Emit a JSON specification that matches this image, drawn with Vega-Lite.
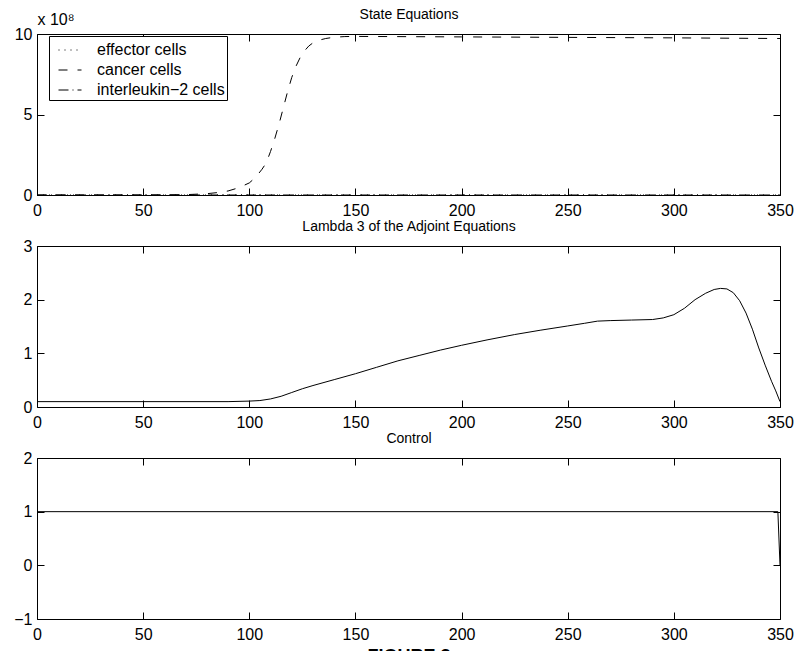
{
  "$schema": "https://vega.github.io/schema/vega-lite/v6.json",
  "padding": {"left": 13, "top": 7, "right": 5, "bottom": 5},
  "background": "white",
  "spacing": 51,
  "bounds": "flush",
  "config": {
    "font": "Liberation Sans",
    "view": {"stroke": null},
    "axis": {"grid": false, "domainColor": "black", "domainWidth": 1, "tickColor": "black", "tickWidth": 1, "tickSize": -7, "labelColor": "black", "labelFontSize": 16, "labelFont": "Liberation Sans", "titleFont": "Liberation Sans", "titleFontSize": 14, "titleFontWeight": "normal", "titleColor": "black", "labelFlush": false, "labelOverlap": false},
    "axisX": {"labelPadding": 14},
    "axisY": {"labelPadding": 12}
  },
  "datasets": {
    "state": [
      {"t": 0, "v": 0, "series": "effector cells"},
      {"t": 100, "v": 0, "series": "effector cells"},
      {"t": 200, "v": 0, "series": "effector cells"},
      {"t": 350, "v": 0, "series": "effector cells"},
      {"t": 0, "v": 0, "series": "interleukin−2 cells"},
      {"t": 100, "v": 0, "series": "interleukin−2 cells"},
      {"t": 200, "v": 0, "series": "interleukin−2 cells"},
      {"t": 350, "v": 0, "series": "interleukin−2 cells"},
      {"t": 0, "v": 0, "series": "cancer cells"},
      {"t": 50, "v": 0, "series": "cancer cells"},
      {"t": 70, "v": 2000000, "series": "cancer cells"},
      {"t": 80, "v": 8000000, "series": "cancer cells"},
      {"t": 85, "v": 15000000, "series": "cancer cells"},
      {"t": 90, "v": 25000000, "series": "cancer cells"},
      {"t": 95, "v": 45000000, "series": "cancer cells"},
      {"t": 100, "v": 75000000, "series": "cancer cells"},
      {"t": 103, "v": 110000000, "series": "cancer cells"},
      {"t": 106, "v": 160000000, "series": "cancer cells"},
      {"t": 108, "v": 200000000, "series": "cancer cells"},
      {"t": 110, "v": 270000000, "series": "cancer cells"},
      {"t": 112, "v": 350000000, "series": "cancer cells"},
      {"t": 114, "v": 440000000, "series": "cancer cells"},
      {"t": 116, "v": 540000000, "series": "cancer cells"},
      {"t": 118, "v": 640000000, "series": "cancer cells"},
      {"t": 120, "v": 730000000, "series": "cancer cells"},
      {"t": 122, "v": 800000000, "series": "cancer cells"},
      {"t": 124, "v": 855000000, "series": "cancer cells"},
      {"t": 126, "v": 895000000, "series": "cancer cells"},
      {"t": 128, "v": 925000000, "series": "cancer cells"},
      {"t": 130, "v": 945000000, "series": "cancer cells"},
      {"t": 133, "v": 962000000, "series": "cancer cells"},
      {"t": 136, "v": 972000000, "series": "cancer cells"},
      {"t": 140, "v": 980000000, "series": "cancer cells"},
      {"t": 145, "v": 984000000, "series": "cancer cells"},
      {"t": 150, "v": 985000000, "series": "cancer cells"},
      {"t": 200, "v": 982000000, "series": "cancer cells"},
      {"t": 250, "v": 979000000, "series": "cancer cells"},
      {"t": 300, "v": 976000000, "series": "cancer cells"},
      {"t": 350, "v": 972000000, "series": "cancer cells"}
    ],
    "lambda": [
      {"t": 0, "v": 0.1}, {"t": 90, "v": 0.1}, {"t": 100, "v": 0.11}, {"t": 105, "v": 0.12},
      {"t": 110, "v": 0.15}, {"t": 115, "v": 0.2}, {"t": 120, "v": 0.27}, {"t": 125, "v": 0.34},
      {"t": 130, "v": 0.4}, {"t": 140, "v": 0.51}, {"t": 150, "v": 0.62}, {"t": 160, "v": 0.74},
      {"t": 170, "v": 0.86}, {"t": 180, "v": 0.96}, {"t": 190, "v": 1.06}, {"t": 200, "v": 1.15},
      {"t": 212, "v": 1.25}, {"t": 225, "v": 1.35}, {"t": 237, "v": 1.43}, {"t": 250, "v": 1.51},
      {"t": 258, "v": 1.56}, {"t": 264, "v": 1.6}, {"t": 270, "v": 1.61}, {"t": 280, "v": 1.62},
      {"t": 290, "v": 1.63}, {"t": 295, "v": 1.66}, {"t": 300, "v": 1.72}, {"t": 305, "v": 1.84},
      {"t": 310, "v": 2.0}, {"t": 315, "v": 2.12}, {"t": 319, "v": 2.19}, {"t": 322, "v": 2.21},
      {"t": 325, "v": 2.2}, {"t": 328, "v": 2.13}, {"t": 331, "v": 1.98}, {"t": 334, "v": 1.75},
      {"t": 337, "v": 1.45}, {"t": 340, "v": 1.1}, {"t": 343, "v": 0.78}, {"t": 346, "v": 0.48},
      {"t": 348, "v": 0.3}, {"t": 350, "v": 0.1}
    ],
    "control": [
      {"t": 0, "v": 1}, {"t": 349, "v": 1}, {"t": 350, "v": 0}
    ]
  },
  "vconcat": [
    {
      "width": 743, "height": 161,
      "data": {"name": "state"},
      "layer": [
        {
          "mark": {"type": "line", "strokeWidth": 1, "color": "black"},
          "encoding": {
            "x": {"field": "t", "type": "quantitative", "scale": {"domain": [0, 350], "nice": false, "zero": false},
                  "axis": {"orient": "bottom", "values": [0, 50, 100, 150, 200, 250, 300, 350], "title": null}},
            "y": {"field": "v", "type": "quantitative", "scale": {"domain": [0, 1000000000], "nice": false},
                  "axis": {"orient": "left", "values": [0, 500000000, 1000000000], "labelExpr": "format(datum.value/100000000, 'd')",
                           "title": "x 10⁸", "titleAngle": 0, "titleX": 0, "titleY": -10, "titleAlign": "left", "titleBaseline": "alphabetic", "titleFontSize": 16}},
            "strokeDash": {"field": "series", "type": "nominal",
                           "scale": {"domain": ["effector cells", "cancer cells", "interleukin−2 cells"], "range": [[1, 5], [9, 10], [10, 4, 1, 4]]},
                           "legend": {"title": null, "orient": "none", "legendX": 12, "legendY": 2, "symbolType": "stroke", "symbolSize": 529,
                                      "symbolStrokeColor": "black", "symbolStrokeWidth": 1, "labelFontSize": 16, "labelFont": "Liberation Sans",
                                      "labelColor": "black", "fillColor": "white", "strokeColor": "black", "padding": 2, "rowPadding": -5,
                                      "labelOffset": 15, "symbolOffset": 7, "labelLimit": 300}}
          }
        },
        {
          "mark": {"type": "line", "opacity": 0},
          "encoding": {
            "x": {"field": "t", "type": "quantitative",
                  "axis": {"orient": "top", "values": [0, 50, 100, 150, 200, 250, 300, 350], "labels": false, "title": "State Equations", "titleY": -16, "titleBaseline": "alphabetic"}},
            "y": {"field": "v", "type": "quantitative",
                  "axis": {"orient": "right", "values": [0, 500000000, 1000000000], "labels": false, "title": null}},
            "detail": {"field": "series", "type": "nominal"}
          }
        }
      ]
    },
    {
      "width": 743, "height": 161,
      "data": {"name": "lambda"},
      "layer": [
        {
          "mark": {"type": "line", "strokeWidth": 1, "color": "black"},
          "encoding": {
            "x": {"field": "t", "type": "quantitative", "scale": {"domain": [0, 350], "nice": false, "zero": false},
                  "axis": {"orient": "bottom", "values": [0, 50, 100, 150, 200, 250, 300, 350], "title": null}},
            "y": {"field": "v", "type": "quantitative", "scale": {"domain": [0, 3], "nice": false},
                  "axis": {"orient": "left", "values": [0, 1, 2, 3], "title": null}}
          }
        },
        {
          "mark": {"type": "line", "opacity": 0},
          "encoding": {
            "x": {"field": "t", "type": "quantitative",
                  "axis": {"orient": "top", "values": [0, 50, 100, 150, 200, 250, 300, 350], "labels": false, "title": "Lambda 3 of the Adjoint Equations", "titleY": -16, "titleBaseline": "alphabetic"}},
            "y": {"field": "v", "type": "quantitative",
                  "axis": {"orient": "right", "values": [0, 1, 2, 3], "labels": false, "title": null}}
          }
        }
      ]
    },
    {
      "width": 743, "height": 161,
      "data": {"name": "control"},
      "layer": [
        {
          "mark": {"type": "line", "strokeWidth": 1, "color": "black"},
          "encoding": {
            "x": {"field": "t", "type": "quantitative", "scale": {"domain": [0, 350], "nice": false, "zero": false},
                  "axis": {"orient": "bottom", "values": [0, 50, 100, 150, 200, 250, 300, 350], "title": "FIGURE 3", "titleY": 42, "titleBaseline": "alphabetic", "titleFontWeight": "bold", "titleFontSize": 18}},
            "y": {"field": "v", "type": "quantitative", "scale": {"domain": [-1, 2], "nice": false},
                  "axis": {"orient": "left", "values": [-1, 0, 1, 2], "title": null}}
          }
        },
        {
          "mark": {"type": "line", "opacity": 0},
          "encoding": {
            "x": {"field": "t", "type": "quantitative",
                  "axis": {"orient": "top", "values": [0, 50, 100, 150, 200, 250, 300, 350], "labels": false, "title": "Control", "titleY": -16, "titleBaseline": "alphabetic"}},
            "y": {"field": "v", "type": "quantitative",
                  "axis": {"orient": "right", "values": [-1, 0, 1, 2], "labels": false, "title": null}}
          }
        }
      ]
    }
  ]
}
